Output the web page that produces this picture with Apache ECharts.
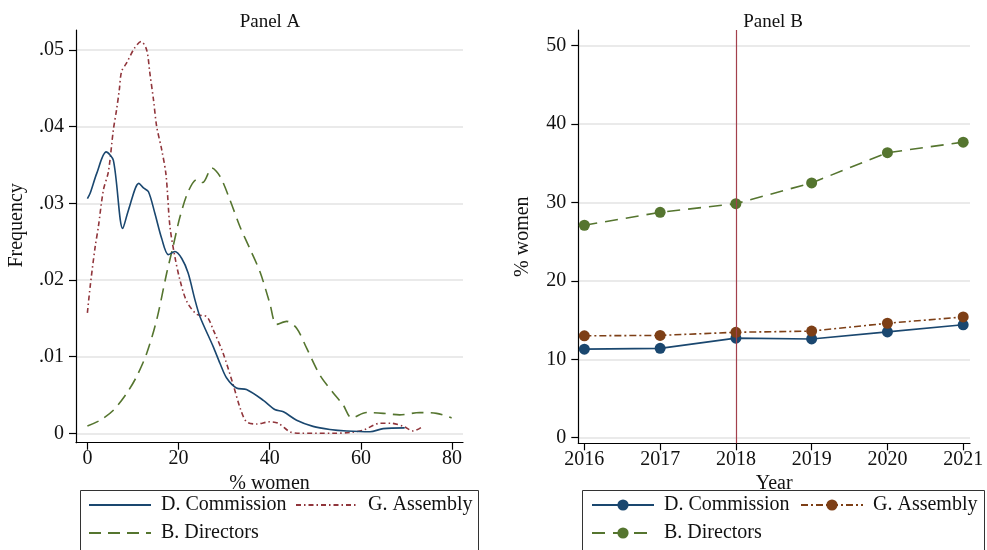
<!DOCTYPE html>
<html><head><meta charset="utf-8">
<script src="https://cdn.jsdelivr.net/npm/echarts@6/dist/echarts.min.js"></script>
<style>html,body{margin:0;padding:0;background:#fff}#c{width:987px;height:550px}</style>
</head><body><div id="c"></div>
<script>
// ---- Panel A data (kernel density, % women vs frequency)
const commX = [0,0.6,2.05,4.1,5.7,7.75,9.0,11.3,12.3,13.4,14.8,16.3,17.75,19.2,20.7,22.1,23.6,24.7,27.6,29.1,30.55,32.7,34.9,38.6,41.1,43.0,45.9,49.5,53.2,56.9,62.0,64.9,69.6];
const commY = [.0306,.0313,.0339,.0367,.0356,.0267,.0291,.0326,.0320,.0315,.0287,.0254,.0233,.0237,.0228,.0209,.0174,.0152,.0113,.0091,.0072,.0059,.0057,.0043,.0031,.0028,.0017,.0009,.0005,.0003,.0002,.0006,.0007];
const assemX = [0,0.6,1.7,2.4,3.5,4.6,5.7,6.4,7.0,7.5,8.6,10.3,11.8,13.0,13.7,14.5,15.2,16.3,17.25,18.1,19.2,20.3,21.8,24.0,26.2,27.6,29.8,32.0,33.5,34.9,37.1,40.0,41.9,44.4,46.6,53.9,57.6,60.5,64.2,66.7,69.3,71.5,73.6];
const assemY = [.0157,.0191,.0243,.0269,.0317,.0341,.0396,.0422,.0448,.0472,.0483,.0502,.0511,.0500,.0470,.0435,.0400,.0370,.0337,.0270,.0230,.0200,.0172,.0155,.0152,.0135,.0104,.0063,.0033,.0015,.0012,.0015,.0013,.0002,0,0,.0001,.0004,.0013,.0013,.0009,.0003,.0009];
const dirX = [0,2.8,5.7,8.6,10.8,13.0,15.2,17.4,18.85,20.3,22.1,24,25.3,27.3,29.1,31.3,33.5,35.7,37.9,40.0,41.5,43.7,45.9,48.1,51,53.9,56.1,58,61.2,64.9,68.5,72.9,76.6,79.9];
const dirY = [.00095,.0017,.0030,.0052,.0074,.0104,.0148,.0209,.0245,.0282,.0315,.0331,.0327,.0346,.0335,.0304,.0269,.0240,.0210,.0170,.0142,.0146,.0137,.0111,.0076,.0053,.0037,.0020,.0027,.0026,.0024,.0027,.0026,.0020];
const ticksAX = [0,20,40,60,80];
const ticksAY = [0,.01,.02,.03,.04,.05];

// ---- Panel B data (% women by year)
const years = [2016,2017,2018,2019,2020,2021];
const commB = [11.3,11.4,12.7,12.6,13.5,14.4];
const assemB = [13.0,13.05,13.45,13.6,14.6,15.4];
const dirB = [27.1,28.75,29.85,32.5,36.35,37.7];
const ticksBY = [0,10,20,30,40,50];
const markYear = 2018;

const names = ['D. Commission','G. Assembly','B. Directors'];

const FONT = "'Liberation Serif','DejaVu Serif',serif";
const TXT = '#111';
const NAVY = '#1a476f', MAROON = '#90353b', GREEN = '#55752f', BROWN = '#7d3f16';

const zip = (xs, ys) => xs.map((x, i) => [x, ys[i]]);

function axisCommon() {
  return {
    axisLine: {show: true, onZero: false, lineStyle: {color: '#000', width: 1.2}},
    axisTick: {show: true, length: 7, lineStyle: {color: '#000', width: 1.2}},
    axisLabel: {color: TXT, fontFamily: FONT, fontSize: 20},
    nameTextStyle: {color: TXT, fontFamily: FONT, fontSize: 20},
    splitLine: {show: false}
  };
}

const fmtA = v => v === 0 ? '0' : String(+v.toFixed(2)).replace(/^0/, '');

const option = {
  animation: false,
  backgroundColor: '#fff',
  title: [
    {text: 'Panel A', left: 265, top: 8, textAlign: 'center', textStyle: {fontFamily: FONT, fontSize: 19, fontWeight: 'normal', color: TXT}},
    {text: 'Panel B', left: 768, top: 8, textAlign: 'center', textStyle: {fontFamily: FONT, fontSize: 19, fontWeight: 'normal', color: TXT}}
  ],
  grid: [
    {left: 76, top: 30, width: 387, height: 412.7},
    {left: 578.3, top: 30, width: 391.7, height: 413.3}
  ],
  xAxis: [
    Object.assign(axisCommon(), {
      type: 'value', gridIndex: 0, min: -2.5, max: 82.4,
      name: '% women', nameLocation: 'middle', nameGap: 21,
      axisTick: {show: true, length: 7, customValues: ticksAX, lineStyle: {color: '#000', width: 1.2}},
      axisLabel: {color: TXT, fontFamily: FONT, fontSize: 20, margin: 6, customValues: ticksAX}
    }),
    Object.assign(axisCommon(), {
      type: 'value', gridIndex: 1, min: 2015.92, max: 2021.09,
      name: 'Year', nameLocation: 'middle', nameGap: 23,
      axisTick: {show: true, length: 7, customValues: years, lineStyle: {color: '#000', width: 1.2}},
      axisLabel: {color: TXT, fontFamily: FONT, fontSize: 20, margin: 6, customValues: years, formatter: v => String(v)}
    })
  ],
  yAxis: [
    Object.assign(axisCommon(), {
      type: 'value', gridIndex: 0, min: -0.00123, max: 0.0526,
      name: 'Frequency', nameLocation: 'middle', nameGap: 49, nameRotate: 90,
      nameTextStyle: {color: TXT, fontFamily: FONT, fontSize: 20, padding: [0, 0, 0, 22]},
      axisTick: {show: true, length: 7, customValues: ticksAY, lineStyle: {color: '#000', width: 1.2}},
      axisLabel: {color: TXT, fontFamily: FONT, fontSize: 20, margin: 12, customValues: ticksAY, formatter: fmtA},
      splitLine: {show: true, lineStyle: {color: '#e3e3e3', width: 1.5}}
    }),
    Object.assign(axisCommon(), {
      type: 'value', gridIndex: 1, min: -0.71, max: 52,
      name: '% women', nameLocation: 'middle', nameGap: 46, nameRotate: 90,
      axisTick: {show: true, length: 7, customValues: ticksBY, lineStyle: {color: '#000', width: 1.2}},
      axisLabel: {color: TXT, fontFamily: FONT, fontSize: 20, margin: 12, customValues: ticksBY},
      splitLine: {show: true, lineStyle: {color: '#e3e3e3', width: 1.5}}
    })
  ],
  legend: [],
  graphic: [
    {type: 'rect', shape: {x: 80.5, y: 490.5, width: 398, height: 80}, style: {fill: 'none', stroke: '#333', lineWidth: 1}, silent: true},
    {type: 'rect', shape: {x: 582.5, y: 490.5, width: 402, height: 80}, style: {fill: 'none', stroke: '#333', lineWidth: 1}, silent: true}
  ],
  series: [
    {name: 'A|' + names[1], type: 'line', xAxisIndex: 0, yAxisIndex: 0, data: zip(assemX, assemY), symbol: 'none', smooth: 0.3,
     lineStyle: {color: MAROON, width: 1.6, type: [5, 3, 1.5, 3]}, itemStyle: {color: MAROON}},
    {name: 'A|' + names[2], type: 'line', xAxisIndex: 0, yAxisIndex: 0, data: zip(dirX, dirY), symbol: 'none', smooth: 0.3,
     lineStyle: {color: GREEN, width: 1.6, type: [12, 7]}, itemStyle: {color: GREEN}},
    {name: 'A|' + names[0], type: 'line', xAxisIndex: 0, yAxisIndex: 0, data: zip(commX, commY), symbol: 'none', smooth: 0.3,
     lineStyle: {color: NAVY, width: 1.6, type: 'solid'}, itemStyle: {color: NAVY}},
    {name: 'B|' + names[0], type: 'line', xAxisIndex: 1, yAxisIndex: 1, data: zip(years, commB), symbol: 'circle', symbolSize: 11,
     lineStyle: {color: NAVY, width: 1.6, type: 'solid'}, itemStyle: {color: NAVY},
     markLine: {symbol: 'none', silent: true, label: {show: false}, lineStyle: {color: '#a3404c', width: 1.2, type: 'solid'}, data: [{xAxis: markYear}]}},
    {name: 'B|' + names[1], type: 'line', xAxisIndex: 1, yAxisIndex: 1, data: zip(years, assemB), symbol: 'circle', symbolSize: 11,
     lineStyle: {color: BROWN, width: 1.6, type: [7, 3, 2, 3]}, itemStyle: {color: BROWN}},
    {name: 'B|' + names[2], type: 'line', xAxisIndex: 1, yAxisIndex: 1, data: zip(years, dirB), symbol: 'circle', symbolSize: 11,
     lineStyle: {color: GREEN, width: 1.6, type: [13, 8]}, itemStyle: {color: GREEN}}
  ]
};

const legPos = [
  ['A|' + names[0], 88, 495, true], ['A|' + names[1], 295, 495, true], ['A|' + names[2], 88, 523, true],
  ['B|' + names[0], 591, 495, false], ['B|' + names[1], 800, 495, false], ['B|' + names[2], 591, 523, false]
];
legPos.forEach(([n, l, t, noSym]) => {
  const leg = {
    data: [n], left: l, top: t, padding: 0, itemWidth: 62, itemHeight: 14, selectedMode: false,
    formatter: s => s.replace(/^.\|/, ''),
    textStyle: {fontFamily: FONT, fontSize: 20, color: TXT, padding: [0, 0, 0, 5]}
  };
  if (noSym) leg.itemStyle = {opacity: 0, borderWidth: 0};
  option.legend.push(leg);
});

const chart = echarts.init(document.getElementById('c'), null, {renderer: 'canvas'});
chart.setOption(option);
</script></body></html>
